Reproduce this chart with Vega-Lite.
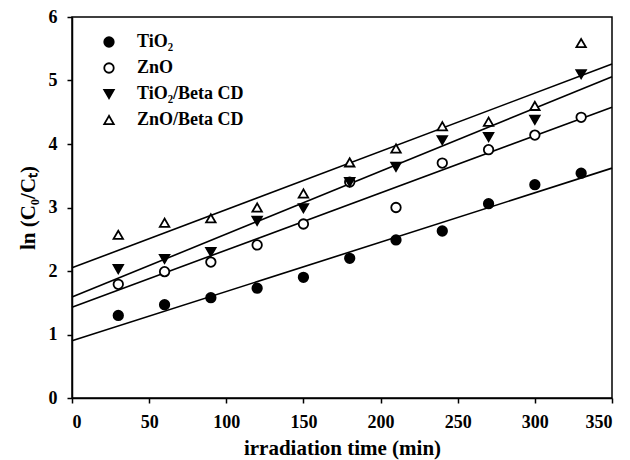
{
  "$schema": "https://vega.github.io/schema/vega-lite/v6.json",
  "width": 540,
  "height": 381,
  "autosize": "none",
  "padding": {"left": 72, "top": 17, "right": 18, "bottom": 62},
  "background": "white",
  "config": {
    "view": {"stroke": "black", "strokeWidth": 1.5},
    "font": "Liberation Serif",
    "axis": {
      "grid": false,
      "domainColor": "black",
      "domainWidth": 1.5,
      "tickColor": "black",
      "tickWidth": 1.5,
      "tickSize": 5,
      "labelFont": "Liberation Serif",
      "labelFontWeight": "bold",
      "labelFontSize": 18,
      "labelColor": "black",
      "titleFont": "Liberation Serif",
      "titleFontWeight": "bold",
      "titleFontSize": 21,
      "titleColor": "black"
    },
    "legend": {
      "title": null,
      "orient": "none",
      "legendX": 28,
      "legendY": 16,
      "symbolStrokeColor": "black",
      "symbolStrokeWidth": 1.8,
      "symbolSize": 90,
      "labelFont": "Liberation Serif",
      "labelFontWeight": "bold",
      "labelFontSize": 18,
      "labelColor": "black",
      "labelOffset": 19,
      "rowPadding": 8
    }
  },
  "datasets": {
    "fits": [
      {"series": "TiO₂", "t": 0, "v": 0.9},
      {"series": "TiO₂", "t": 350, "v": 3.62},
      {"series": "ZnO", "t": 0, "v": 1.43},
      {"series": "ZnO", "t": 350, "v": 4.58},
      {"series": "TiO₂/Beta CD", "t": 0, "v": 1.59},
      {"series": "TiO₂/Beta CD", "t": 350, "v": 5.06},
      {"series": "ZnO/Beta CD", "t": 0, "v": 2.05},
      {"series": "ZnO/Beta CD", "t": 350, "v": 5.26}
    ],
    "pts": [
      {"series": "TiO₂", "t": 30, "v": 1.3},
      {"series": "TiO₂", "t": 60, "v": 1.47},
      {"series": "TiO₂", "t": 90, "v": 1.58},
      {"series": "TiO₂", "t": 120, "v": 1.73},
      {"series": "TiO₂", "t": 150, "v": 1.9},
      {"series": "TiO₂", "t": 180, "v": 2.2},
      {"series": "TiO₂", "t": 210, "v": 2.49},
      {"series": "TiO₂", "t": 240, "v": 2.63},
      {"series": "TiO₂", "t": 270, "v": 3.06},
      {"series": "TiO₂", "t": 300, "v": 3.36},
      {"series": "TiO₂", "t": 330, "v": 3.54},
      {"series": "ZnO", "t": 30, "v": 1.79},
      {"series": "ZnO", "t": 60, "v": 1.99},
      {"series": "ZnO", "t": 90, "v": 2.14},
      {"series": "ZnO", "t": 120, "v": 2.41},
      {"series": "ZnO", "t": 150, "v": 2.74},
      {"series": "ZnO", "t": 180, "v": 3.4},
      {"series": "ZnO", "t": 210, "v": 3.0},
      {"series": "ZnO", "t": 240, "v": 3.7},
      {"series": "ZnO", "t": 270, "v": 3.91},
      {"series": "ZnO", "t": 300, "v": 4.14},
      {"series": "ZnO", "t": 330, "v": 4.42},
      {"series": "TiO₂/Beta CD", "t": 30, "v": 2.03},
      {"series": "TiO₂/Beta CD", "t": 60, "v": 2.19},
      {"series": "TiO₂/Beta CD", "t": 90, "v": 2.3},
      {"series": "TiO₂/Beta CD", "t": 120, "v": 2.79},
      {"series": "TiO₂/Beta CD", "t": 150, "v": 2.99},
      {"series": "TiO₂/Beta CD", "t": 180, "v": 3.4},
      {"series": "TiO₂/Beta CD", "t": 210, "v": 3.64},
      {"series": "TiO₂/Beta CD", "t": 240, "v": 4.06},
      {"series": "TiO₂/Beta CD", "t": 270, "v": 4.11},
      {"series": "TiO₂/Beta CD", "t": 300, "v": 4.38},
      {"series": "TiO₂/Beta CD", "t": 330, "v": 5.1},
      {"series": "ZnO/Beta CD", "t": 30, "v": 2.57},
      {"series": "ZnO/Beta CD", "t": 60, "v": 2.76},
      {"series": "ZnO/Beta CD", "t": 90, "v": 2.83},
      {"series": "ZnO/Beta CD", "t": 120, "v": 3.0},
      {"series": "ZnO/Beta CD", "t": 150, "v": 3.22},
      {"series": "ZnO/Beta CD", "t": 180, "v": 3.71},
      {"series": "ZnO/Beta CD", "t": 210, "v": 3.93},
      {"series": "ZnO/Beta CD", "t": 240, "v": 4.28},
      {"series": "ZnO/Beta CD", "t": 270, "v": 4.35},
      {"series": "ZnO/Beta CD", "t": 300, "v": 4.6},
      {"series": "ZnO/Beta CD", "t": 330, "v": 5.59}
    ]
  },
  "layer": [
    {
      "data": {"name": "fits"},
      "mark": {"type": "line", "color": "black", "strokeWidth": 1.6},
      "encoding": {
        "x": {"field": "t", "type": "quantitative"},
        "y": {"field": "v", "type": "quantitative"},
        "detail": {"field": "series", "type": "nominal"}
      }
    },
    {
      "data": {"name": "pts"},
      "mark": {"type": "point", "filled": true, "strokeWidth": 1.8, "size": 90, "opacity": 1},
      "encoding": {
        "x": {
          "field": "t", "type": "quantitative",
          "scale": {"domain": [0, 350], "nice": false},
          "axis": {"values": [0, 50, 100, 150, 200, 250, 300, 350], "title": "irradiation time (min)", "labelPadding": 10, "titlePadding": 6}
        },
        "y": {
          "field": "v", "type": "quantitative",
          "scale": {"domain": [0, 6], "nice": false},
          "axis": {"values": [0, 1, 2, 3, 4, 5, 6], "format": "d", "title": "ln (C₀/Cₜ)", "labelPadding": 10, "titlePadding": 10}
        },
        "shape": {
          "field": "series", "type": "nominal", "title": null,
          "scale": {"domain": ["TiO₂", "ZnO", "TiO₂/Beta CD", "ZnO/Beta CD"], "range": ["circle", "circle", "triangle-down", "triangle-up"]}
        },
        "fill": {
          "field": "series", "type": "nominal", "title": null,
          "scale": {"domain": ["TiO₂", "ZnO", "TiO₂/Beta CD", "ZnO/Beta CD"], "range": ["black", "white", "black", "white"]}
        },
        "stroke": {
          "field": "series", "type": "nominal", "title": null,
          "scale": {"domain": ["TiO₂", "ZnO", "TiO₂/Beta CD", "ZnO/Beta CD"], "range": ["black", "black", "black", "black"]}
        }
      }
    }
  ]
}
